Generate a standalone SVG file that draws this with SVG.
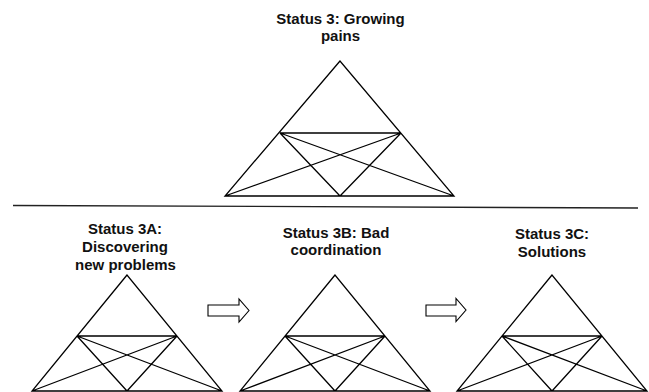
<svg xmlns="http://www.w3.org/2000/svg" width="649" height="392" viewBox="0 0 649 392">
<style>
.t{font-family:"Liberation Sans",Arial,sans-serif;font-weight:bold;font-size:15px;fill:#111;text-anchor:middle}
.ln{stroke:#000;stroke-width:1.3;fill:none;stroke-linejoin:miter}
.ar{stroke:#000;stroke-width:1.1;fill:#fff}
</style>
<defs>
<g id="tri">
<path class="ln" d="M0,0 L-95,116 L95,116 Z M-50,61 L50,61 M-50,61 L0,116 M-50,61 L95,116 M50,61 L0,116 M50,61 L-95,116"/>
</g>
</defs>
<rect width="649" height="392" fill="#fff"/>
<g id="node-status3">
<path class="ln" d="M340,61 L225,196 L454,196 Z M280,133 L401,133 M280,133 L340,196 M280,133 L454,196 M401,133 L340,196 M401,133 L225,196"/>
<text class="t" x="340.5" y="24">Status 3: Growing</text>
<text class="t" x="340.5" y="41">pains</text>
</g>
<g id="separator">
<line x1="13" y1="205.5" x2="638" y2="208" stroke="#222" stroke-width="1.3"/>
</g>
<g id="node-status3a">
<use href="#tri" x="127" y="275"/>
<text class="t" x="125" y="234">Status 3A:</text>
<text class="t" x="125" y="252">Discovering</text>
<text class="t" x="125.5" y="269.5">new problems</text>
</g>
<g id="node-status3b">
<use href="#tri" x="335" y="275"/>
<text class="t" x="336" y="237.5">Status 3B: Bad</text>
<text class="t" x="336" y="255">coordination</text>
</g>
<g id="node-status3c">
<use href="#tri" x="552" y="275"/>
<text class="t" x="552" y="239">Status 3C:</text>
<text class="t" x="552" y="257">Solutions</text>
</g>
<g id="connectors">
<path class="ar" d="M208,305 L239,305 L239,299 L249,310.5 L239,322 L239,316 L208,316 Z"/>
<path class="ar" d="M426,305 L456,305 L456,298.5 L466,310 L456,321.5 L456,316 L426,316 Z"/>
</g>
</svg>
